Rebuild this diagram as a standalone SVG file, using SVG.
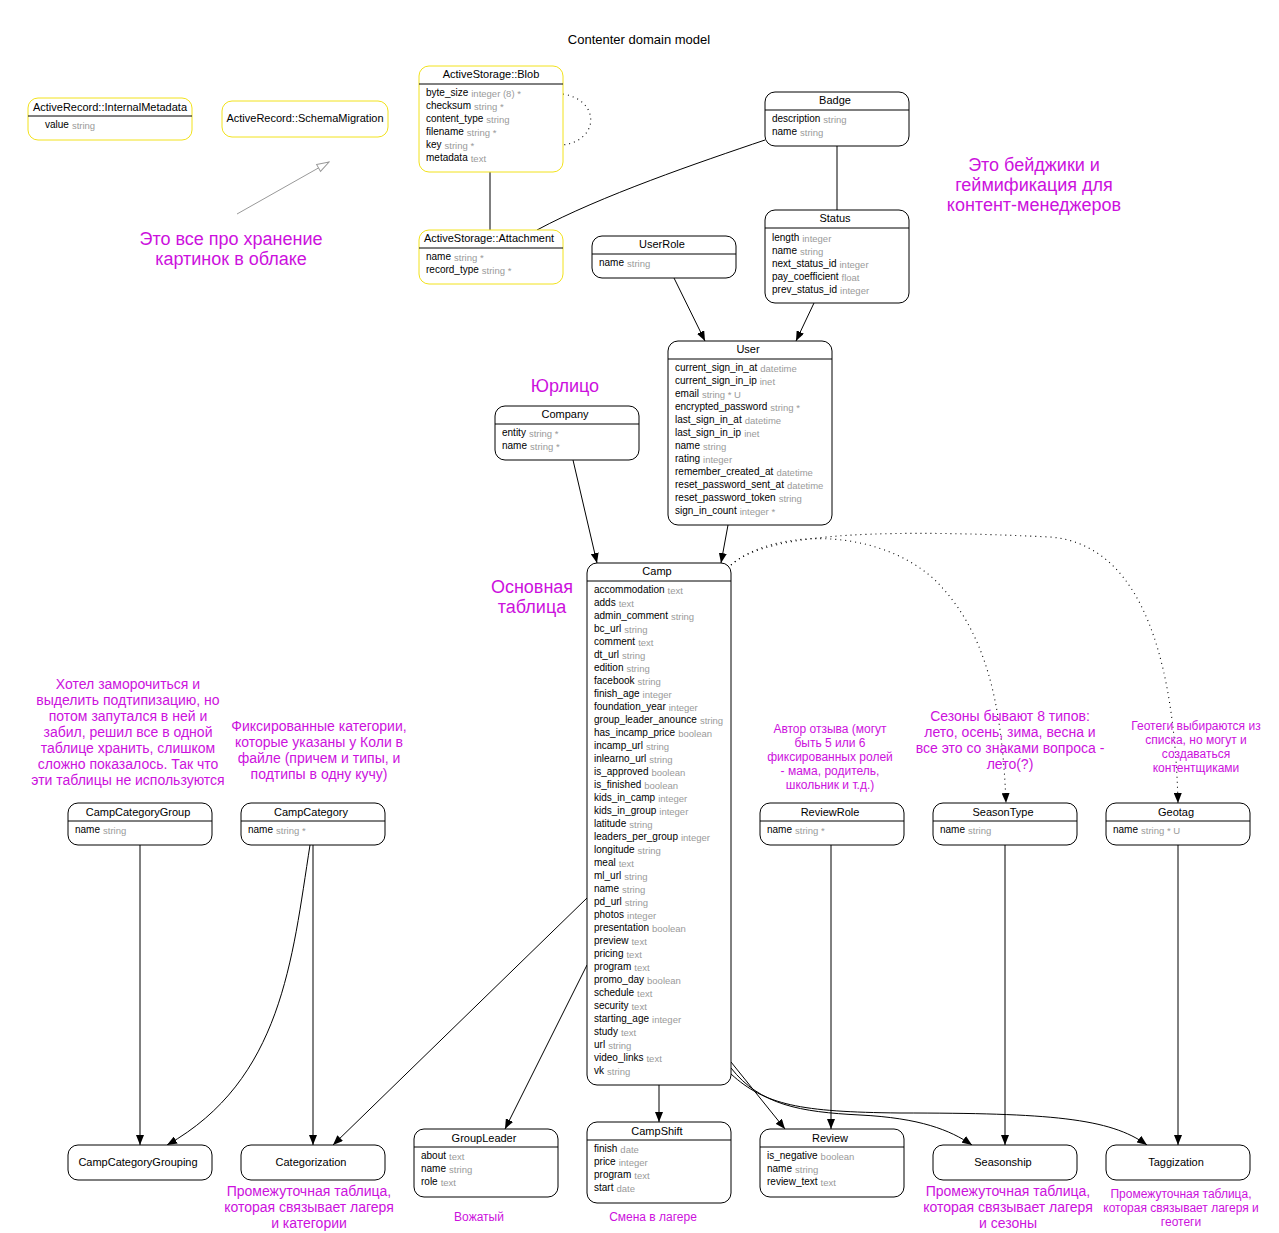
<svg xmlns="http://www.w3.org/2000/svg" width="1279" height="1233" viewBox="0 0 1279 1233">
<style>
text{font-family:"Liberation Sans",Arial,sans-serif;}
.box{fill:#fff;stroke:#000;stroke-width:1;}
.ybox{fill:#fff;stroke:#f2e21c;stroke-width:1;}
.div{stroke:#000;stroke-width:1;}
.hd{font-size:11px;fill:#000;text-anchor:middle;}
.f{font-size:10px;fill:#000;}
.t{font-size:9.5px;fill:#9a9a9a;}
.e{fill:none;stroke:#000;stroke-width:1;}
.d{fill:none;stroke:#000;stroke-width:1.1;stroke-dasharray:1,4;}
.n1{font-size:18px;fill:#cc11dd;text-anchor:middle;}
.n2{font-size:14px;fill:#cc11dd;text-anchor:middle;}
.n3{font-size:12px;fill:#cc11dd;text-anchor:middle;}
</style>
<defs>
<marker id="ah" markerWidth="10" markerHeight="8" refX="10" refY="4" orient="auto" markerUnits="userSpaceOnUse"><path d="M0,0 L10,4 L0,8 z" fill="#000"/></marker>
<marker id="oh" markerWidth="14" markerHeight="10" refX="13" refY="5" orient="auto" markerUnits="userSpaceOnUse"><path d="M1,1 L13,5 L1,9 z" fill="#fff" stroke="#999" stroke-width="1"/></marker>
</defs>
<rect width="1279" height="1233" fill="#fff"/>
<text x="639" y="44" style="font-size:13px;text-anchor:middle">Contenter domain model</text>

<g id="connectors">
<path class="d" d="M563,94 C600,100 600,140 563,145"/>
<path class="e" d="M490,172 L490,230"/>
<path class="e" d="M537,230 C600,196 700,162 765,140"/>
<path class="e" d="M837,146 L837,210"/>
<path class="e" d="M674,278 L705,341" marker-end="url(#ah)"/>
<path class="e" d="M814,303 L796,341" marker-end="url(#ah)"/>
<path class="e" d="M573,460 L597,563" marker-end="url(#ah)"/>
<path class="e" d="M728,525 L721,563" marker-end="url(#ah)"/>
<path class="d" d="M731,565 C770,530 875,525 935,580 C985,630 1002,700 1006,803" marker-end="url(#ah)"/>
<path class="d" d="M731,565 C770,530 900,530 1050,537 C1150,545 1175,680 1178,803" marker-end="url(#ah)"/>
<path class="e" d="M140,845 L140,1145" marker-end="url(#ah)"/>
<path class="e" d="M310,845 C292,960 282,1080 167,1145" marker-end="url(#ah)"/>
<path class="e" d="M313,845 L313,1145" marker-end="url(#ah)"/>
<path class="e" d="M587,898 L333,1145" marker-end="url(#ah)"/>
<path class="e" d="M587,965 L505,1129" marker-end="url(#ah)"/>
<path class="e" d="M659,1085 L659,1122" marker-end="url(#ah)"/>
<path class="e" d="M731,1062 L785,1129" marker-end="url(#ah)"/>
<path class="e" d="M831,845 L831,1129" marker-end="url(#ah)"/>
<path class="e" d="M731,1068 C760,1105 800,1112 860,1115 C920,1118 950,1130 972,1145" marker-end="url(#ah)"/>
<path class="e" d="M731,1074 C765,1105 800,1112 900,1113 C1050,1113 1110,1118 1147,1145" marker-end="url(#ah)"/>
<path class="e" d="M1005,845 L1005,1145" marker-end="url(#ah)"/>
<path class="e" d="M1178,845 L1178,1145" marker-end="url(#ah)"/>
<path d="M237,214 L329,162" fill="none" stroke="#999" stroke-width="1" marker-end="url(#oh)"/>
</g>

<g id="ActiveRecordInternalMetadata">
<rect class="ybox" x="28" y="98" width="164" height="42" rx="10"/>
<line class="div" x1="28" y1="116" x2="192" y2="116"/>
<text class="hd" x="110" y="111">ActiveRecord::InternalMetadata</text>
<text x="45" y="128"><tspan class="f">value</tspan><tspan class="t" dx="3" dy="1">string</tspan></text>
</g>

<g id="ActiveRecordSchemaMigration">
<rect class="ybox" x="222" y="101" width="166" height="36" rx="10"/>
<text class="hd" x="305" y="122">ActiveRecord::SchemaMigration</text>
</g>

<g id="ActiveStorageBlob">
<rect class="ybox" x="419" y="66" width="144" height="106" rx="10"/>
<line class="div" x1="419" y1="84" x2="563" y2="84"/>
<text class="hd" x="491" y="78">ActiveStorage::Blob</text>
<text x="426" y="96"><tspan class="f">byte_size</tspan><tspan class="t" dx="3" dy="1">integer (8) *</tspan></text>
<text x="426" y="109"><tspan class="f">checksum</tspan><tspan class="t" dx="3" dy="1">string *</tspan></text>
<text x="426" y="122"><tspan class="f">content_type</tspan><tspan class="t" dx="3" dy="1">string</tspan></text>
<text x="426" y="135"><tspan class="f">filename</tspan><tspan class="t" dx="3" dy="1">string *</tspan></text>
<text x="426" y="148"><tspan class="f">key</tspan><tspan class="t" dx="3" dy="1">string *</tspan></text>
<text x="426" y="161"><tspan class="f">metadata</tspan><tspan class="t" dx="3" dy="1">text</tspan></text>
</g>

<g id="ActiveStorageAttachment">
<rect class="ybox" x="419" y="230" width="144" height="54" rx="10"/>
<line class="div" x1="419" y1="248" x2="563" y2="248"/>
<text class="hd" x="489" y="242">ActiveStorage::Attachment</text>
<text x="426" y="260"><tspan class="f">name</tspan><tspan class="t" dx="3" dy="1">string *</tspan></text>
<text x="426" y="273"><tspan class="f">record_type</tspan><tspan class="t" dx="3" dy="1">string *</tspan></text>
</g>

<g id="Badge">
<rect class="box" x="765" y="92" width="144" height="54" rx="10"/>
<line class="div" x1="765" y1="110" x2="909" y2="110"/>
<text class="hd" x="835" y="104">Badge</text>
<text x="772" y="122"><tspan class="f">description</tspan><tspan class="t" dx="3" dy="1">string</tspan></text>
<text x="772" y="135"><tspan class="f">name</tspan><tspan class="t" dx="3" dy="1">string</tspan></text>
</g>

<g id="Status">
<rect class="box" x="765" y="210" width="144" height="93" rx="10"/>
<line class="div" x1="765" y1="228" x2="909" y2="228"/>
<text class="hd" x="835" y="222">Status</text>
<text x="772" y="241"><tspan class="f">length</tspan><tspan class="t" dx="3" dy="1">integer</tspan></text>
<text x="772" y="254"><tspan class="f">name</tspan><tspan class="t" dx="3" dy="1">string</tspan></text>
<text x="772" y="267"><tspan class="f">next_status_id</tspan><tspan class="t" dx="3" dy="1">integer</tspan></text>
<text x="772" y="280"><tspan class="f">pay_coefficient</tspan><tspan class="t" dx="3" dy="1">float</tspan></text>
<text x="772" y="293"><tspan class="f">prev_status_id</tspan><tspan class="t" dx="3" dy="1">integer</tspan></text>
</g>

<g id="UserRole">
<rect class="box" x="592" y="236" width="144" height="42" rx="10"/>
<line class="div" x1="592" y1="254" x2="736" y2="254"/>
<text class="hd" x="662" y="248">UserRole</text>
<text x="599" y="266"><tspan class="f">name</tspan><tspan class="t" dx="3" dy="1">string</tspan></text>
</g>

<g id="User">
<rect class="box" x="668" y="341" width="164" height="184" rx="10"/>
<line class="div" x1="668" y1="359" x2="832" y2="359"/>
<text class="hd" x="748" y="353">User</text>
<text x="675" y="371"><tspan class="f">current_sign_in_at</tspan><tspan class="t" dx="3" dy="1">datetime</tspan></text>
<text x="675" y="384"><tspan class="f">current_sign_in_ip</tspan><tspan class="t" dx="3" dy="1">inet</tspan></text>
<text x="675" y="397"><tspan class="f">email</tspan><tspan class="t" dx="3" dy="1">string * U</tspan></text>
<text x="675" y="410"><tspan class="f">encrypted_password</tspan><tspan class="t" dx="3" dy="1">string *</tspan></text>
<text x="675" y="423"><tspan class="f">last_sign_in_at</tspan><tspan class="t" dx="3" dy="1">datetime</tspan></text>
<text x="675" y="436"><tspan class="f">last_sign_in_ip</tspan><tspan class="t" dx="3" dy="1">inet</tspan></text>
<text x="675" y="449"><tspan class="f">name</tspan><tspan class="t" dx="3" dy="1">string</tspan></text>
<text x="675" y="462"><tspan class="f">rating</tspan><tspan class="t" dx="3" dy="1">integer</tspan></text>
<text x="675" y="475"><tspan class="f">remember_created_at</tspan><tspan class="t" dx="3" dy="1">datetime</tspan></text>
<text x="675" y="488"><tspan class="f">reset_password_sent_at</tspan><tspan class="t" dx="3" dy="1">datetime</tspan></text>
<text x="675" y="501"><tspan class="f">reset_password_token</tspan><tspan class="t" dx="3" dy="1">string</tspan></text>
<text x="675" y="514"><tspan class="f">sign_in_count</tspan><tspan class="t" dx="3" dy="1">integer *</tspan></text>
</g>

<g id="Company">
<rect class="box" x="495" y="406" width="144" height="54" rx="10"/>
<line class="div" x1="495" y1="424" x2="639" y2="424"/>
<text class="hd" x="565" y="418">Company</text>
<text x="502" y="436"><tspan class="f">entity</tspan><tspan class="t" dx="3" dy="1">string *</tspan></text>
<text x="502" y="449"><tspan class="f">name</tspan><tspan class="t" dx="3" dy="1">string *</tspan></text>
</g>

<g id="Camp">
<rect class="box" x="587" y="563" width="144" height="522" rx="10"/>
<line class="div" x1="587" y1="581" x2="731" y2="581"/>
<text class="hd" x="657" y="575">Camp</text>
<text x="594" y="593"><tspan class="f">accommodation</tspan><tspan class="t" dx="3" dy="1">text</tspan></text>
<text x="594" y="606"><tspan class="f">adds</tspan><tspan class="t" dx="3" dy="1">text</tspan></text>
<text x="594" y="619"><tspan class="f">admin_comment</tspan><tspan class="t" dx="3" dy="1">string</tspan></text>
<text x="594" y="632"><tspan class="f">bc_url</tspan><tspan class="t" dx="3" dy="1">string</tspan></text>
<text x="594" y="645"><tspan class="f">comment</tspan><tspan class="t" dx="3" dy="1">text</tspan></text>
<text x="594" y="658"><tspan class="f">dt_url</tspan><tspan class="t" dx="3" dy="1">string</tspan></text>
<text x="594" y="671"><tspan class="f">edition</tspan><tspan class="t" dx="3" dy="1">string</tspan></text>
<text x="594" y="684"><tspan class="f">facebook</tspan><tspan class="t" dx="3" dy="1">string</tspan></text>
<text x="594" y="697"><tspan class="f">finish_age</tspan><tspan class="t" dx="3" dy="1">integer</tspan></text>
<text x="594" y="710"><tspan class="f">foundation_year</tspan><tspan class="t" dx="3" dy="1">integer</tspan></text>
<text x="594" y="723"><tspan class="f">group_leader_anounce</tspan><tspan class="t" dx="3" dy="1">string</tspan></text>
<text x="594" y="736"><tspan class="f">has_incamp_price</tspan><tspan class="t" dx="3" dy="1">boolean</tspan></text>
<text x="594" y="749"><tspan class="f">incamp_url</tspan><tspan class="t" dx="3" dy="1">string</tspan></text>
<text x="594" y="762"><tspan class="f">inlearno_url</tspan><tspan class="t" dx="3" dy="1">string</tspan></text>
<text x="594" y="775"><tspan class="f">is_approved</tspan><tspan class="t" dx="3" dy="1">boolean</tspan></text>
<text x="594" y="788"><tspan class="f">is_finished</tspan><tspan class="t" dx="3" dy="1">boolean</tspan></text>
<text x="594" y="801"><tspan class="f">kids_in_camp</tspan><tspan class="t" dx="3" dy="1">integer</tspan></text>
<text x="594" y="814"><tspan class="f">kids_in_group</tspan><tspan class="t" dx="3" dy="1">integer</tspan></text>
<text x="594" y="827"><tspan class="f">latitude</tspan><tspan class="t" dx="3" dy="1">string</tspan></text>
<text x="594" y="840"><tspan class="f">leaders_per_group</tspan><tspan class="t" dx="3" dy="1">integer</tspan></text>
<text x="594" y="853"><tspan class="f">longitude</tspan><tspan class="t" dx="3" dy="1">string</tspan></text>
<text x="594" y="866"><tspan class="f">meal</tspan><tspan class="t" dx="3" dy="1">text</tspan></text>
<text x="594" y="879"><tspan class="f">ml_url</tspan><tspan class="t" dx="3" dy="1">string</tspan></text>
<text x="594" y="892"><tspan class="f">name</tspan><tspan class="t" dx="3" dy="1">string</tspan></text>
<text x="594" y="905"><tspan class="f">pd_url</tspan><tspan class="t" dx="3" dy="1">string</tspan></text>
<text x="594" y="918"><tspan class="f">photos</tspan><tspan class="t" dx="3" dy="1">integer</tspan></text>
<text x="594" y="931"><tspan class="f">presentation</tspan><tspan class="t" dx="3" dy="1">boolean</tspan></text>
<text x="594" y="944"><tspan class="f">preview</tspan><tspan class="t" dx="3" dy="1">text</tspan></text>
<text x="594" y="957"><tspan class="f">pricing</tspan><tspan class="t" dx="3" dy="1">text</tspan></text>
<text x="594" y="970"><tspan class="f">program</tspan><tspan class="t" dx="3" dy="1">text</tspan></text>
<text x="594" y="983"><tspan class="f">promo_day</tspan><tspan class="t" dx="3" dy="1">boolean</tspan></text>
<text x="594" y="996"><tspan class="f">schedule</tspan><tspan class="t" dx="3" dy="1">text</tspan></text>
<text x="594" y="1009"><tspan class="f">security</tspan><tspan class="t" dx="3" dy="1">text</tspan></text>
<text x="594" y="1022"><tspan class="f">starting_age</tspan><tspan class="t" dx="3" dy="1">integer</tspan></text>
<text x="594" y="1035"><tspan class="f">study</tspan><tspan class="t" dx="3" dy="1">text</tspan></text>
<text x="594" y="1048"><tspan class="f">url</tspan><tspan class="t" dx="3" dy="1">string</tspan></text>
<text x="594" y="1061"><tspan class="f">video_links</tspan><tspan class="t" dx="3" dy="1">text</tspan></text>
<text x="594" y="1074"><tspan class="f">vk</tspan><tspan class="t" dx="3" dy="1">string</tspan></text>
</g>

<g id="CampCategoryGroup">
<rect class="box" x="68" y="803" width="144" height="42" rx="10"/>
<line class="div" x1="68" y1="821" x2="212" y2="821"/>
<text class="hd" x="138" y="816">CampCategoryGroup</text>
<text x="75" y="833"><tspan class="f">name</tspan><tspan class="t" dx="3" dy="1">string</tspan></text>
</g>

<g id="CampCategory">
<rect class="box" x="241" y="803" width="144" height="42" rx="10"/>
<line class="div" x1="241" y1="821" x2="385" y2="821"/>
<text class="hd" x="311" y="816">CampCategory</text>
<text x="248" y="833"><tspan class="f">name</tspan><tspan class="t" dx="3" dy="1">string *</tspan></text>
</g>

<g id="ReviewRole">
<rect class="box" x="760" y="803" width="144" height="42" rx="10"/>
<line class="div" x1="760" y1="821" x2="904" y2="821"/>
<text class="hd" x="830" y="816">ReviewRole</text>
<text x="767" y="833"><tspan class="f">name</tspan><tspan class="t" dx="3" dy="1">string *</tspan></text>
</g>

<g id="SeasonType">
<rect class="box" x="933" y="803" width="144" height="42" rx="10"/>
<line class="div" x1="933" y1="821" x2="1077" y2="821"/>
<text class="hd" x="1003" y="816">SeasonType</text>
<text x="940" y="833"><tspan class="f">name</tspan><tspan class="t" dx="3" dy="1">string</tspan></text>
</g>

<g id="Geotag">
<rect class="box" x="1106" y="803" width="144" height="42" rx="10"/>
<line class="div" x1="1106" y1="821" x2="1250" y2="821"/>
<text class="hd" x="1176" y="816">Geotag</text>
<text x="1113" y="833"><tspan class="f">name</tspan><tspan class="t" dx="3" dy="1">string * U</tspan></text>
</g>

<g id="CampCategoryGrouping">
<rect class="box" x="68" y="1145" width="144" height="35" rx="10"/>
<text class="hd" x="138" y="1166">CampCategoryGrouping</text>
</g>

<g id="Categorization">
<rect class="box" x="241" y="1145" width="144" height="35" rx="10"/>
<text class="hd" x="311" y="1166">Categorization</text>
</g>

<g id="GroupLeader">
<rect class="box" x="414" y="1129" width="144" height="68" rx="10"/>
<line class="div" x1="414" y1="1147" x2="558" y2="1147"/>
<text class="hd" x="484" y="1142">GroupLeader</text>
<text x="421" y="1159"><tspan class="f">about</tspan><tspan class="t" dx="3" dy="1">text</tspan></text>
<text x="421" y="1172"><tspan class="f">name</tspan><tspan class="t" dx="3" dy="1">string</tspan></text>
<text x="421" y="1185"><tspan class="f">role</tspan><tspan class="t" dx="3" dy="1">text</tspan></text>
</g>

<g id="CampShift">
<rect class="box" x="587" y="1122" width="144" height="81" rx="10"/>
<line class="div" x1="587" y1="1140" x2="731" y2="1140"/>
<text class="hd" x="657" y="1135">CampShift</text>
<text x="594" y="1152"><tspan class="f">finish</tspan><tspan class="t" dx="3" dy="1">date</tspan></text>
<text x="594" y="1165"><tspan class="f">price</tspan><tspan class="t" dx="3" dy="1">integer</tspan></text>
<text x="594" y="1178"><tspan class="f">program</tspan><tspan class="t" dx="3" dy="1">text</tspan></text>
<text x="594" y="1191"><tspan class="f">start</tspan><tspan class="t" dx="3" dy="1">date</tspan></text>
</g>

<g id="Review">
<rect class="box" x="760" y="1129" width="144" height="68" rx="10"/>
<line class="div" x1="760" y1="1147" x2="904" y2="1147"/>
<text class="hd" x="830" y="1142">Review</text>
<text x="767" y="1159"><tspan class="f">is_negative</tspan><tspan class="t" dx="3" dy="1">boolean</tspan></text>
<text x="767" y="1172"><tspan class="f">name</tspan><tspan class="t" dx="3" dy="1">string</tspan></text>
<text x="767" y="1185"><tspan class="f">review_text</tspan><tspan class="t" dx="3" dy="1">text</tspan></text>
</g>

<g id="Seasonship">
<rect class="box" x="933" y="1145" width="144" height="35" rx="10"/>
<text class="hd" x="1003" y="1166">Seasonship</text>
</g>

<g id="Taggization">
<rect class="box" x="1106" y="1145" width="144" height="35" rx="10"/>
<text class="hd" x="1176" y="1166">Taggization</text>
</g>

<g id="notes">
<text class="n1" x="231" y="245">Это все про хранение</text>
<text class="n1" x="231" y="265">картинок в облаке</text>
<text class="n1" x="1034" y="171">Это бейджики и</text>
<text class="n1" x="1034" y="191">геймификация для</text>
<text class="n1" x="1034" y="211">контент-менеджеров</text>
<text class="n1" x="565" y="392">Юрлицо</text>
<text class="n1" x="532" y="593">Основная</text>
<text class="n1" x="532" y="613">таблица</text>
<text class="n2" x="128" y="689">Хотел заморочиться и</text>
<text class="n2" x="128" y="705">выделить подтипизацию, но</text>
<text class="n2" x="128" y="721">потом запутался в ней и</text>
<text class="n2" x="128" y="737">забил, решил все в одной</text>
<text class="n2" x="128" y="753">таблице хранить, слишком</text>
<text class="n2" x="128" y="769">сложно показалось. Так что</text>
<text class="n2" x="128" y="785">эти таблицы не используются</text>
<text class="n2" x="319" y="731">Фиксированные категории,</text>
<text class="n2" x="319" y="747">которые указаны у Коли в</text>
<text class="n2" x="319" y="763">файле (причем и типы, и</text>
<text class="n2" x="319" y="779">подтипы в одну кучу)</text>
<text class="n3" x="830" y="733">Автор отзыва (могут</text>
<text class="n3" x="830" y="747">быть 5 или 6</text>
<text class="n3" x="830" y="761">фиксированных ролей</text>
<text class="n3" x="830" y="775">- мама, родитель,</text>
<text class="n3" x="830" y="789">школьник и т.д.)</text>
<text class="n2" x="1010" y="721">Сезоны бывают 8 типов:</text>
<text class="n2" x="1010" y="737">лето, осень, зима, весна и</text>
<text class="n2" x="1010" y="753">все это со знаками вопроса -</text>
<text class="n2" x="1010" y="769">лето(?)</text>
<text class="n3" x="1196" y="730">Геотеги выбираются из</text>
<text class="n3" x="1196" y="744">списка, но могут и</text>
<text class="n3" x="1196" y="758">создаваться</text>
<text class="n3" x="1196" y="772">контентщиками</text>
<text class="n2" x="309" y="1196">Промежуточная таблица,</text>
<text class="n2" x="309" y="1212">которая связывает лагеря</text>
<text class="n2" x="309" y="1228">и категории</text>
<text class="n3" x="479" y="1221">Вожатый</text>
<text class="n3" x="653" y="1221">Смена в лагере</text>
<text class="n2" x="1008" y="1196">Промежуточная таблица,</text>
<text class="n2" x="1008" y="1212">которая связывает лагеря</text>
<text class="n2" x="1008" y="1228">и сезоны</text>
<text class="n3" x="1181" y="1198">Промежуточная таблица,</text>
<text class="n3" x="1181" y="1212">которая связывает лагеря и</text>
<text class="n3" x="1181" y="1226">геотеги</text>
</g>
</svg>
